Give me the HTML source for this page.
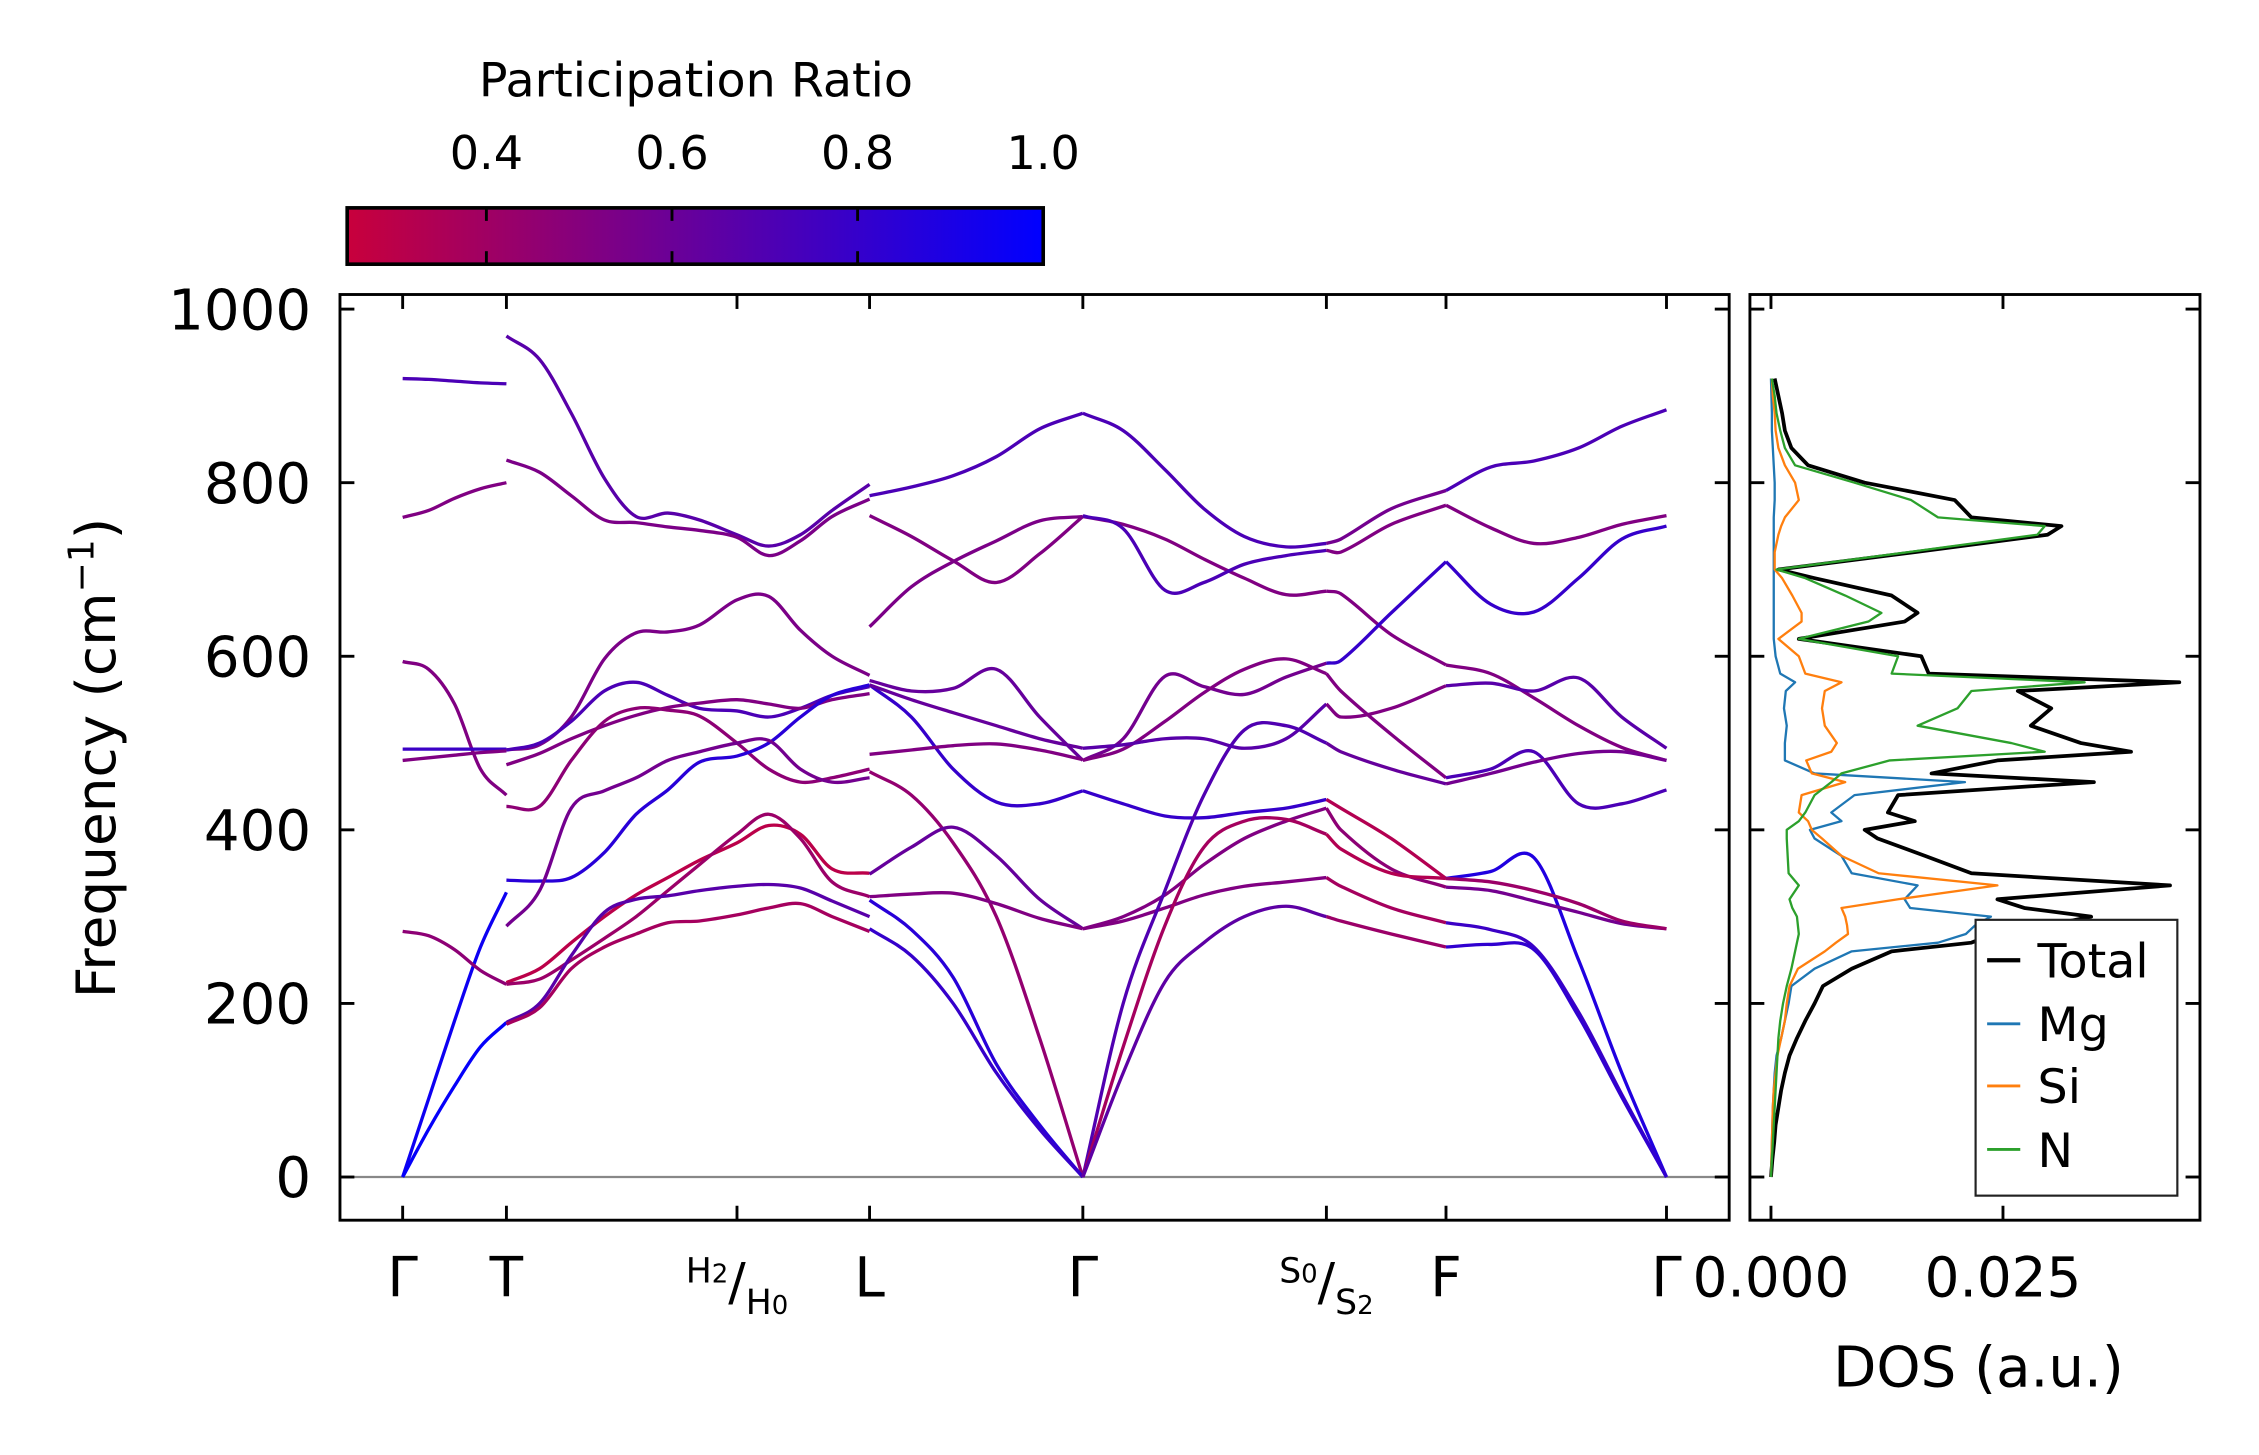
<!DOCTYPE html>
<html><head><meta charset="utf-8"><style>
html,body{margin:0;padding:0;background:#fff;}
svg{display:block;}
text{font-family:"DejaVu Sans","Liberation Sans",sans-serif;fill:#000;}
</style></head><body>
<svg id="fig" width="2259" height="1455" viewBox="0 0 1553 1000" xmlns="http://www.w3.org/2000/svg">
<defs>
<linearGradient id="cbg" x1="0" x2="1" y1="0" y2="0">
<stop offset="0" stop-color="#c8003c"/><stop offset="1" stop-color="#0000ff"/>
</linearGradient>
</defs>
<g id="root" transform="matrix(0.9907,0,0,0.9928,1.9,-0.2)">
<g id="colorbar">
<text x="481" y="67" font-size="33" text-anchor="middle">Participation Ratio</text>
<rect x="239" y="144" width="483" height="39" fill="url(#cbg)" stroke="#000" stroke-width="2.5"/>
</g>
<g id="main"></g>
<g id="dos"></g>
<text transform="translate(78,525) rotate(-90)" font-size="38" text-anchor="middle">Frequency (cm<tspan font-size="25" dy="-15">−1</tspan><tspan dy="15">)</tspan></text>
<text x="1371" y="960" font-size="39" text-anchor="middle">DOS (a.u.)</text>
<g id="legend">
<rect x="1369" y="637" width="140" height="191" fill="#fff" stroke="#222" stroke-width="1.5"/>
<line x1="1377" x2="1400" y1="665" y2="665" stroke="#000" stroke-width="3"/>
<text x="1412" y="677" font-size="33">Total</text>
<line x1="1377" x2="1400" y1="709" y2="709" stroke="#1f77b4" stroke-width="2"/>
<text x="1412" y="721" font-size="33">Mg</text>
<line x1="1377" x2="1400" y1="752" y2="752" stroke="#ff7f0e" stroke-width="2"/>
<text x="1412" y="764" font-size="33">Si</text>
<line x1="1377" x2="1400" y1="796" y2="796" stroke="#2ca02c" stroke-width="2"/>
<text x="1412" y="808" font-size="33">N</text>
</g>
</g>
</svg>
<script>
// ---------- data ----------
const kTickPos = [0, 0.72, 2.32, 3.24, 4.72, 6.41, 7.24, 8.77];
const kTickLabels = ["Γ", "T", "H2/H0", "L", "Γ", "S0/S2", "F", "Γ"];
const yTicks = [0, 200, 400, 600, 800, 1000];
const cbTicks = [0.4, 0.6, 0.8, 1.0];
const segK = [
  [0, 0.18, 0.36, 0.54, 0.72],
  [0.72, 0.95, 1.17, 1.40, 1.62, 1.84, 2.06, 2.32, 2.54, 2.76, 2.98, 3.24],
  [3.24, 3.53, 3.82, 4.12, 4.42, 4.72],
  [4.72, 5.0, 5.29, 5.56, 5.84, 6.13, 6.41],
  [6.41, 6.51, 6.86, 7.24],
  [7.24, 7.55, 7.85, 8.16, 8.46, 8.77]
];
const seg1Bands = [[0,90,180,265,328],[0,55,105,150,178],[920,919,917,915,914],[760,768,782,793,800],[594,585,545,470,440],[493,493,493,493,493],[480,483,486,489,491],[283,278,262,238,222]];
const seg1PR = [0.95,0.98,0.72,0.52,0.52,0.78,0.52,0.47];
const seg2Bands = [
  [969,942,880,805,761,765,757,740,727,740,768,798],
  [826,812,785,757,754,749,745,737,716,733,761,781],
  [492,498,530,597,627,628,636,665,669,630,600,578],
  [492,500,525,560,570,555,540,537,530,540,555,565],
  [475,488,505,520,532,541,546,550,545,540,550,557],
  [427,427,480,525,540,538,531,500,470,455,460,470],
  [342,341,345,374,418,446,478,485,500,530,555,567],
  [289,330,425,445,460,480,490,500,503,470,455,460],
  [224,240,270,300,325,345,365,385,405,395,355,350],
  [222,228,250,275,300,330,360,395,418,390,340,323],
  [178,200,255,305,320,324,330,335,337,333,318,300],
  [176,195,240,265,280,293,295,302,310,315,300,283]];
const seg2PR = [0.67,0.54,0.54,0.72,0.52,0.47,0.85,0.57,0.3,0.42,0.67,0.38];
const seg3Bands = [
  [785,795,808,830,862,880],[762,738,710,685,718,761],[634,680,709,733,756,761],
  [572,560,563,585,530,480],[567,530,470,432,430,445],[567,550,535,520,505,494],
  [487,492,497,499,492,481],[467,440,385,300,160,0],[349,380,403,370,320,286],
  [323,326,327,315,298,286],[319,285,230,130,60,0],[286,255,200,120,55,0]];
const seg3PR = [0.72,0.52,0.54,0.62,0.8,0.62,0.52,0.45,0.62,0.52,0.85,0.8];
const seg4Bands = [
  [880,860,815,770,738,726,730],[761,752,735,712,690,671,675],[762,747,676,685,706,716,722],
  [480,505,577,565,556,576,592],[480,493,525,558,585,597,580],[494,498,505,505,494,505,545],
  [445,430,416,414,420,425,435],[286,300,325,360,390,410,425],[286,295,310,325,335,340,345],
  [0,200,330,440,515,520,500],[0,150,290,380,410,412,395],[0,120,225,270,300,312,300]];
const seg4PR = [0.72,0.52,0.72,0.57,0.52,0.67,0.8,0.52,0.52,0.7,0.38,0.65];
const seg5Bands = [
  [730,735,770,791],[722,720,752,774],[675,672,625,590],[592,595,650,709],
  [580,560,510,460],[545,530,540,566],[500,490,470,453],[435,425,390,344],
  [425,400,355,334],[395,378,350,344],[345,335,310,293],[300,295,280,265]];
const seg5PR = [0.57,0.52,0.52,0.8,0.52,0.52,0.62,0.33,0.47,0.33,0.38,0.42];
const seg6Bands = [
  [791,818,825,840,865,884],[774,748,730,737,752,762],[709,660,651,690,735,750],
  [590,580,552,520,495,480],[566,569,560,575,530,494],[460,470,490,430,430,446],
  [453,465,478,488,490,480],[344,352,368,250,120,0],[334,330,318,305,292,286],
  [344,340,330,315,295,286],[293,285,265,190,95,0],[265,268,262,185,92,0]];
const seg6PR = [0.72,0.52,0.8,0.52,0.67,0.72,0.57,0.88,0.57,0.42,0.78,0.82];

const dosFreq = [0,20,40,60,80,100,120,140,160,180,200,220,240,260,270,280,290,300,310,320,336,350,370,390,400,410,420,440,455,465,480,490,500,520,540,560,570,580,600,620,640,650,670,690,700,720,740,750,760,780,800,820,840,860,880,900,920];
const dosTotal = [0,0.15,0.35,0.5,0.8,1.1,1.5,2.0,2.8,3.7,4.7,5.6,8.7,13,21.6,24,30,34.5,27.3,24.4,43,21.6,16.6,11.5,10.1,15.5,12.6,13.7,34.8,17.3,24.4,38.8,33.4,28,30.2,26.6,44,17,16.2,3.0,14.4,15.8,13,4.7,0.8,15.5,29.8,31.3,21.6,19.8,10.1,4.0,2.2,1.5,1.2,0.8,0.4];
const dosMg = [0,0.05,0.1,0.15,0.2,0.3,0.4,0.6,1.1,1.5,1.9,2.2,4.7,8.7,18,21,22,23.7,15,14.4,15.8,8.7,7.6,4.7,4.2,7.6,6.5,9,20.9,4.7,1.5,1.5,1.5,1.7,1.4,1.6,2.6,1.0,0.5,0.3,0.3,0.3,0.3,0.3,0.3,0.3,0.3,0.3,0.3,0.4,0.4,0.3,0.2,0.1,0.1,0.05,0];
const dosSi = [0,0.05,0.1,0.15,0.2,0.3,0.5,0.7,1.1,1.5,1.7,2.0,2.9,5.8,7,8.3,8.2,8,7.6,13.7,24.4,11.6,7.6,5.5,4.4,4.0,3.0,3.3,8,4.4,3.8,6.5,7.1,5.8,5.5,5.8,7.6,3.7,3.0,0.8,3.3,3.3,2.3,1.2,0.4,0.4,0.8,1.1,1.5,3.0,2.6,1.5,0.8,0.5,0.4,0.2,0.1];
const dosN = [0,0.1,0.2,0.3,0.4,0.5,0.6,0.7,0.8,1.0,1.3,1.7,2.2,2.6,2.8,3,2.9,2.8,2.3,2.0,3,1.9,1.8,1.7,1.7,3,3.7,4.7,6.5,7.6,12.8,29.5,25.9,15.8,20.1,21.6,33.8,13,13.7,3.0,10.5,11.9,8,3.7,0.6,14.8,28.7,29.5,18,15.1,9,2.6,1.5,1.0,0.6,0.4,0.1];
const dosTicks = [0, 0.025];
const dosTickLabels = ["0.000", "0.025"];

// ---------- axes ----------
const NS = "http://www.w3.org/2000/svg";
const MX0 = 234, MX1 = 1198, MY0 = 204, MY1 = 845;
const DX0 = 1212.4, DX1 = 1524.7;
function xK(k){ return 277.5 + k * 100; }
function yF(f){ return 815.1 - 0.601 * f; }
function xD(v){ return 1227 + v * 6440; }
function xC(p){ return 239 + (p - 0.25) / 0.75 * 483; }
function cmap(p){
  let t = Math.max(0, Math.min(1, (p - 0.25) / 0.75));
  const r = Math.round(200 * (1 - t)), b = Math.round(60 + 195 * t);
  return "rgb(" + r + ",0," + b + ")";
}
function mk(tag, attrs, parent){
  const e = document.createElementNS(NS, tag);
  for (const a in attrs) e.setAttribute(a, attrs[a]);
  parent.appendChild(e);
  return e;
}
function smoothPath(xs, ys){
  const n = xs.length;
  const m = [];
  for (let i = 0; i < n; i++){
    if (i === 0) m.push((ys[1]-ys[0])/(xs[1]-xs[0]));
    else if (i === n-1) m.push((ys[n-1]-ys[n-2])/(xs[n-1]-xs[n-2]));
    else m.push(((ys[i+1]-ys[i-1])/(xs[i+1]-xs[i-1])));
  }
  let d = "M" + xs[0].toFixed(2) + "," + ys[0].toFixed(2);
  for (let i = 0; i < n-1; i++){
    const h = xs[i+1]-xs[i];
    d += " C" + (xs[i]+h/3).toFixed(2) + "," + (ys[i]+m[i]*h/3).toFixed(2) + " " +
         (xs[i+1]-h/3).toFixed(2) + "," + (ys[i+1]-m[i+1]*h/3).toFixed(2) + " " +
         xs[i+1].toFixed(2) + "," + ys[i+1].toFixed(2);
  }
  return d;
}

const main = document.getElementById("main");
const dos = document.getElementById("dos");
const cb = document.getElementById("colorbar");
const root = document.getElementById("root");

cbTicks.forEach(function(p){
  const x = xC(p);
  const t1 = mk("line", {x1:x, x2:x, y1:144, y2:153, stroke:"#000", "stroke-width":2}, cb);
  
  
  const t2 = mk("line", {x1:x, x2:x, y1:174, y2:183, stroke:"#000", "stroke-width":2}, cb);
  
  
  const tl = mk("text", {x:x, y:117, "font-size":32, "text-anchor":"middle"}, cb);
  tl.textContent = p.toFixed(1);
  
  
});

const zl = mk("line", {x1:MX0, x2:MX1, y1:yF(0), y2:yF(0), stroke:"#888", "stroke-width":1.5}, main);



const segs = [[seg1Bands, seg1PR],[seg2Bands, seg2PR],[seg3Bands, seg3PR],[seg4Bands, seg4PR],[seg5Bands, seg5PR],[seg6Bands, seg6PR]];
segs.forEach(function(s, si){
  const ks = segK[si];
  s[0].forEach(function(band, bi){
    const xs = ks.map(xK), ys = band.map(yF);
    const p = mk("path", {d:smoothPath(xs, ys), fill:"none", stroke:cmap(s[1][bi]), "stroke-width":2.3}, main);
    
    
  });
});

const mf = mk("rect", {x:MX0, y:MY0, width:MX1-MX0, height:MY1-MY0, fill:"none", stroke:"#000", "stroke-width":2}, main);



yTicks.forEach(function(f){
  const y = yF(f);
  const a = mk("line", {x1:MX0, x2:MX0+10, y1:y, y2:y, stroke:"#000", "stroke-width":2}, main);
  
  
  const b = mk("line", {x1:MX1-10, x2:MX1, y1:y, y2:y, stroke:"#000", "stroke-width":2}, main);
  
  
  const c = mk("line", {x1:DX0, x2:DX0+10, y1:y, y2:y, stroke:"#000", "stroke-width":2}, dos);
  
  
  const d = mk("line", {x1:DX1-10, x2:DX1, y1:y, y2:y, stroke:"#000", "stroke-width":2}, dos);
  
  
  const t = mk("text", {x:MX0-20, y:y+14, "font-size":39, "text-anchor":"end"}, main);
  t.textContent = String(f);
  
  
});

kTickPos.forEach(function(k, i){
  const x = xK(k);
  const a = mk("line", {x1:x, x2:x, y1:MY1, y2:MY1-10, stroke:"#000", "stroke-width":2}, main);
  
  
  const b = mk("line", {x1:x, x2:x, y1:MY0, y2:MY0+10, stroke:"#000", "stroke-width":2}, main);
  
  
  const lab = kTickLabels[i];
  if (lab.indexOf("/") > 0){
    const parts = lab.split("/");
    const g = mk("text", {x:x, y:898, "font-size":36, "text-anchor":"middle"}, main);
    
    
    const t1 = mk("tspan", {"font-size":24, dy:-10}, g); t1.textContent = parts[0][0];
    const t1s = mk("tspan", {"font-size":18, dy:0}, g); t1s.textContent = parts[0][1];
    const t2 = mk("tspan", {"font-size":36, dy:12}, g); t2.textContent = "/";
    const t3 = mk("tspan", {"font-size":24, dy:10}, g); t3.textContent = parts[1][0];
    const t3s = mk("tspan", {"font-size":18, dy:0}, g); t3s.textContent = parts[1][1];
  } else {
    const t = mk("text", {x:x, y:898, "font-size":38, "text-anchor":"middle"}, main);
    t.textContent = lab;
    
    
  }
});

function dosPath(vals){
  let d = "";
  dosFreq.forEach(function(f, i){
    d += (i ? " L" : "M") + xD(vals[i]/1000).toFixed(2) + "," + yF(f).toFixed(2);
  });
  return d;
}
const tl0 = mk("path", {d:dosPath(dosTotal), fill:"none", stroke:"#000", "stroke-width":2.6, "stroke-linejoin":"round"}, dos);


const dosSeries = [[dosMg, "#1f77b4", "dos-mg-line"], [dosSi, "#ff7f0e", "dos-si-line"], [dosN, "#2ca02c", "dos-n-line"]];
dosSeries.forEach(function(s){
  const p = mk("path", {d:dosPath(s[0]), fill:"none", stroke:s[1], "stroke-width":1.6, "stroke-linejoin":"round"}, dos);
  
  
});
const df = mk("rect", {x:DX0, y:MY0, width:DX1-DX0, height:MY1-MY0, fill:"none", stroke:"#000", "stroke-width":2}, dos);


dosTicks.forEach(function(v, i){
  const x = xD(v);
  const a = mk("line", {x1:x, x2:x, y1:MY1, y2:MY1-10, stroke:"#000", "stroke-width":2}, dos);
  
  
  const b = mk("line", {x1:x, x2:x, y1:MY0, y2:MY0+10, stroke:"#000", "stroke-width":2}, dos);
  
  
  const t = mk("text", {x:x, y:898, "font-size":38, "text-anchor":"middle"}, dos);
  t.textContent = dosTickLabels[i];
  
  
});
root.appendChild(document.getElementById("legend"));
</script>
</body></html>
